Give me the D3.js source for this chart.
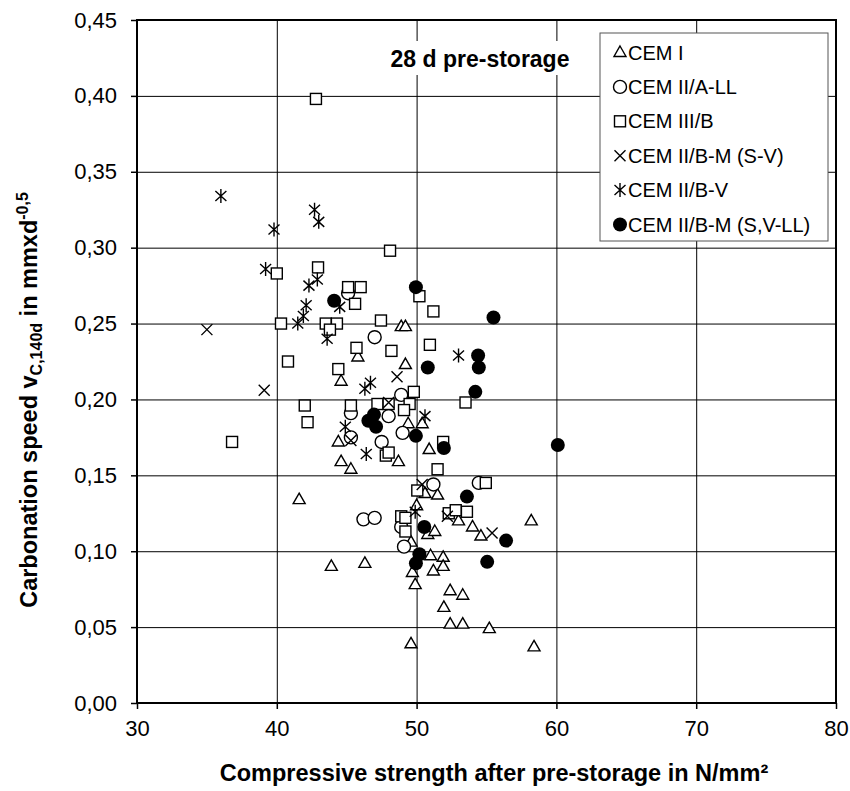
<!DOCTYPE html>
<html>
<head>
<meta charset="utf-8">
<script src="https://cdn.jsdelivr.net/npm/d3@7"></script>
<style>
body { margin:0; background:#fff; }
text { font-family: "Liberation Sans", Arial, sans-serif; }
</style>
</head>
<body>
<div id="chart"></div>
<script>
// values: [compressive strength, carbonation speed]
var cemI = [[41.6,0.134],[43.9,0.090],[44.4,0.172],[44.6,0.212],[44.6,0.159],[45.3,0.154],[45.8,0.228],
  [46.3,0.092],[48.7,0.159],[48.9,0.248],[49.2,0.248],[49.2,0.223],[49.4,0.184],[49.6,0.106],[49.7,0.086],
  [49.9,0.078],[49.6,0.039],[50.0,0.130],[50.4,0.184],[50.9,0.167],[50.6,0.138],[51.5,0.137],[50.8,0.111],
  [51.3,0.113],[51.0,0.097],[51.9,0.096],[51.9,0.090],[51.2,0.087],[52.4,0.074],[53.3,0.071],[51.95,0.063],
  [52.4,0.052],[53.3,0.052],[55.2,0.049],[53.0,0.120],[54.0,0.116],[54.6,0.110],[58.2,0.120],[58.4,0.037]];
var cemIIALL = [[45.1,0.270],[47.0,0.241],[48.9,0.203],[45.3,0.191],[48.0,0.189],[49.0,0.178],[45.3,0.175],
  [47.5,0.172],[51.2,0.144],[54.45,0.145],[46.2,0.121],[47.0,0.122],[48.9,0.116],[49.1,0.103]];
var cemIIIB = [[42.8,0.398],[48.1,0.298],[42.95,0.287],[40.0,0.283],[45.1,0.274],[46.0,0.274],[45.6,0.263],
  [50.2,0.268],[51.2,0.258],[40.3,0.250],[43.5,0.250],[44.3,0.250],[43.8,0.246],[47.45,0.252],[45.7,0.234],
  [48.2,0.232],[50.95,0.236],[40.8,0.225],[44.4,0.220],[49.8,0.205],[47.2,0.197],[48.0,0.197],[49.5,0.197],
  [49.1,0.193],[42.0,0.196],[45.3,0.196],[53.5,0.198],[42.2,0.185],[36.8,0.172],[51.9,0.172],[47.8,0.163],
  [48.0,0.165],[51.5,0.154],[50.05,0.140],[54.95,0.145],[52.3,0.125],[52.8,0.127],[53.6,0.126],[48.9,0.123],
  [49.2,0.122],[49.2,0.113]];
var cemIIBMSV = [[35.0,0.246],[39.1,0.206],[48.6,0.215],[48.0,0.198],[45.3,0.173],[50.4,0.144],[52.2,0.123],[55.4,0.112]];
var cemIIBV = [[36.0,0.334],[39.8,0.312],[42.7,0.325],[43.0,0.317],[39.2,0.286],[42.3,0.275],[42.9,0.279],
  [42.1,0.262],[41.9,0.255],[41.5,0.250],[43.6,0.240],[44.5,0.261],[46.7,0.211],[46.3,0.207],[44.9,0.182],
  [46.4,0.164],[50.6,0.189],[53.0,0.229],[49.9,0.126]];
var cemIIBMSVLL = [[44.1,0.265],[49.95,0.274],[55.5,0.254],[50.8,0.221],[54.4,0.229],[54.45,0.221],[54.2,0.205],
  [46.55,0.186],[46.95,0.190],[47.1,0.182],[49.95,0.176],[51.95,0.168],[60.1,0.170],[53.6,0.136],[50.55,0.116],
  [56.4,0.107],[50.2,0.098],[49.95,0.092],[55.05,0.093]];

var seriesNames = ["CEM I","CEM II/A-LL","CEM III/B","CEM II/B-M (S-V)","CEM II/B-V","CEM II/B-M (S,V-LL)"];
var seriesMarks = ["triangle","circle","square","cross","star","dot"];
var seriesData = [cemI, cemIIALL, cemIIIB, cemIIBMSV, cemIIBV, cemIIBMSVLL];

var xTicks = [30,40,50,60,70,80];
var yTicks = [0,0.05,0.10,0.15,0.20,0.25,0.30,0.35,0.40,0.45];

var W=850, H=791;
var pL=137, pR=836, pT=20, pB=703;

var x=d3.scaleLinear().domain([30,80]).range([pL,pR]);
var y=d3.scaleLinear().domain([0,0.45]).range([pB,pT]);
var fmt=function(d) { return d3.format(".2f")(d).replace(".",","); };

var svg=d3.select("#chart").append("svg")
    .attr("width",W)
    .attr("height",H);

// grid
svg.append("g")
    .attr("transform","translate(0,"+pB+")")
    .call(d3.axisBottom(x).tickValues(xTicks).tickSize(-(pB-pT)).tickFormat(""))
    .call(function(g) {
        g.select(".domain").remove();
        g.selectAll("line").attr("stroke","#000").attr("stroke-width",1);
        });
svg.append("g")
    .attr("transform","translate("+pL+",0)")
    .call(d3.axisLeft(y).tickValues(yTicks).tickSize(-(pR-pL)).tickFormat(""))
    .call(function(g) {
        g.select(".domain").remove();
        g.selectAll("line").attr("stroke","#000").attr("stroke-width",1);
        });

// axes
svg.append("g")
    .attr("transform","translate(0,"+pB+")")
    .call(d3.axisBottom(x).tickValues(xTicks).tickSize(6).tickPadding(11).tickFormat(d3.format("d")))
    .call(function(g) {
        g.select(".domain").remove();
        g.selectAll("line").attr("stroke","#000").attr("stroke-width",1.5);
        g.selectAll("text").attr("font-size",22).attr("fill","#000");
        });
svg.append("g")
    .attr("transform","translate("+pL+",0)")
    .call(d3.axisLeft(y).tickValues(yTicks).tickSize(6).tickPadding(14).tickFormat(fmt))
    .call(function(g) {
        g.select(".domain").remove();
        g.selectAll("line").attr("stroke","#000").attr("stroke-width",1.5);
        g.selectAll("text").attr("font-size",22).attr("fill","#000");
        });

svg.append("rect")
    .attr("x",pL).attr("y",pT)
    .attr("width",pR-pL).attr("height",pB-pT)
    .attr("fill","none").attr("stroke","#000").attr("stroke-width",2);

// title inside plot
svg.append("rect")
    .attr("x",384).attr("y",41).attr("width",192).attr("height",34)
    .attr("fill","#fff");
svg.append("text")
    .attr("x",480).attr("y",67)
    .attr("text-anchor","middle")
    .attr("font-size",23).attr("font-weight","bold")
    .text("28 d pre-storage");

function marker(sel,kind) {
    var sw=1.4;
    if (kind=="triangle") {
        sel.append("path").attr("d","M0,-6.5L6,4L-6,4Z")
            .attr("fill","#fff").attr("stroke","#000").attr("stroke-width",sw);
        }
    else if (kind=="circle") {
        sel.append("circle").attr("r",6.5)
            .attr("fill","#fff").attr("stroke","#000").attr("stroke-width",sw);
        }
    else if (kind=="square") {
        sel.append("rect").attr("x",-5.5).attr("y",-5.5).attr("width",11).attr("height",11)
            .attr("fill","#fff").attr("stroke","#000").attr("stroke-width",sw);
        }
    else if (kind=="cross") {
        sel.append("path").attr("d","M-5.5,-5.5L5.5,5.5M5.5,-5.5L-5.5,5.5")
            .attr("fill","none").attr("stroke","#000").attr("stroke-width",sw);
        }
    else if (kind=="star") {
        sel.append("path").attr("d","M-5.5,-5L5.5,5M5.5,-5L-5.5,5M0,-7L0,7")
            .attr("fill","none").attr("stroke","#000").attr("stroke-width",sw);
        }
    else {
        sel.append("circle").attr("r",7).attr("fill","#000");
        }
    }

seriesData.forEach(function(data,i) {
    svg.append("g").selectAll("g")
        .data(data)
        .enter()
        .append("g")
        .attr("transform",function(d) { return "translate("+x(d[0])+","+y(d[1])+")"; })
        .each(function() { marker(d3.select(this),seriesMarks[i]); });
    });

// legend
var lg=svg.append("g");
lg.append("rect")
    .attr("x",600).attr("y",33).attr("width",228).attr("height",208)
    .attr("fill","#fff").attr("stroke","#555").attr("stroke-width",1);
seriesNames.forEach(function(name,i) {
    var cy=52.5+i*34.4;
    var m=lg.append("g").attr("transform","translate(620,"+cy+")");
    marker(m,seriesMarks[i]);
    lg.append("text")
        .attr("x",628).attr("y",cy+7)
        .attr("font-size",20)
        .text(name);
    });

// axis titles
svg.append("text")
    .attr("x",494).attr("y",781)
    .attr("text-anchor","middle")
    .attr("font-size",23.5).attr("font-weight","bold")
    .text("Compressive strength after pre-storage in N/mm²");

var yt=svg.append("text")
    .attr("transform","translate(37,400) rotate(-90)")
    .attr("text-anchor","middle")
    .attr("font-size",23.5).attr("font-weight","bold");
yt.append("tspan").text("Carbonation speed v");
yt.append("tspan").attr("font-size",16).attr("dy",5).text("C,140d");
yt.append("tspan").attr("dy",-5).text(" in mmxd");
yt.append("tspan").attr("font-size",16).attr("dy",-9).text("-0,5");
</script>
</body>
</html>
